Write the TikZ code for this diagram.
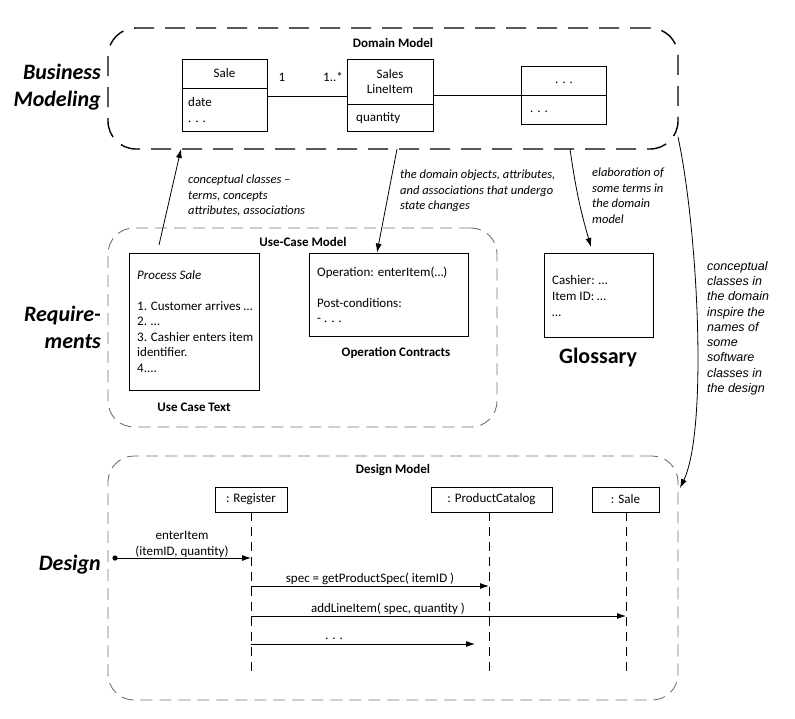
\documentclass[tikz,border=0pt]{standalone}
\usepackage{fontspec}
\setmainfont{Carlito}
\newfontfamily\arialfont{Liberation Sans}
\usetikzlibrary{arrows.meta}
\begin{document}
\begin{tikzpicture}[x=1pt,y=-1pt,
  every node/.style={font=\fontsize{13}{15.5}\selectfont, inner sep=0pt},
  domregion/.style={draw, line width=1.4pt, dash pattern=on 20pt off 11pt, rounded corners=28pt},
  grayregion/.style={draw=black!55, line width=0.9pt, dash pattern=on 12pt off 7pt, rounded corners=26pt},
  boxst/.style={draw, line width=0.9pt},
  arr/.style={-{Latex[length=9pt,width=6pt]}, line width=0.8pt},
  lifeline/.style={line width=0.8pt, dash pattern=on 9pt off 6pt},
  titlest/.style={font=\fontsize{13}{15.5}\selectfont\bfseries},
  lbl/.style={font=\fontsize{12.5}{15.5}\selectfont\itshape, align=left, anchor=north west},
  side/.style={font=\fontsize{22}{27}\selectfont\bfseries\itshape, align=right, anchor=east},
  txt/.style={align=left, anchor=west}]
\useasboundingbox (0,0) rectangle (795,718);

% ---------- regions ----------
\node[domregion, minimum width=570pt, minimum height=121pt] (dom) at (393,88.5) {};
\node[grayregion, minimum width=389pt, minimum height=199pt] (ucm) at (302.5,327.5) {};
\node[grayregion, minimum width=570pt, minimum height=244pt] (des) at (393,578) {};

% ---------- side labels ----------
\node[side] (lbiz) at (101,87.5) {Business\\Modeling};
\node[side] (lreq) at (101,327) {Require-\\ments};
\node[side] (ldes) at (101,565) {Design};

% ---------- domain model ----------
\node[titlest] (domt) at (393,43) {Domain Model};
\node[boxst, minimum width=85pt, minimum height=29pt] (saleT) at (224.5,73.5) {Sale};
\node[boxst, minimum width=85pt, minimum height=43pt] (saleB) at (224.5,109.5) {};
\node[txt, font=\fontsize{13}{16}\selectfont] (saleBt) at (188,110) {date\\. . .};
\node[boxst, minimum width=86pt, minimum height=45pt, align=center] (sliT) at (390,81.5) {Sales\\LineItem};
\node[boxst, minimum width=86pt, minimum height=27pt] (sliB) at (390,117.5) {};
\node[txt] (sliBt) at (356,118) {quantity};
\node[boxst, minimum width=85pt, minimum height=29pt] (othT) at (563.5,80.5) {};
\node[boxst, minimum width=85pt, minimum height=29pt] (othB) at (563.5,109.5) {};
\node (othTt) at (564,83) {. . .};
\node[txt] (othBt) at (530,112) {. . .};
\draw[line width=0.9pt] (saleB.north east |- 0,96) coordinate (as1) -- (as1 -| sliT.west);
\draw[line width=0.9pt] (sliT.east |- othT.south) -- (othT.south west);
\node (mult1) at (282,77) {1};
\node (mult2) at (333,77) {1..*};

% ---------- requirements ----------
\node[titlest] (ucmt) at (303,242) {Use-Case Model};
\node[boxst, minimum width=130pt, minimum height=137pt] (ucbox) at (194,321.5) {};
\node[txt] (uctext) at (137,321.5) {\textit{Process Sale}\\[15.5pt]1. Customer arrives …\\2. …\\3. Cashier enters item\\identifier.\\4....};
\node[titlest] (uct) at (194,407) {Use Case Text};
\node[boxst, minimum width=159pt, minimum height=83pt] (opbox) at (388.5,294.5) {};
\node[txt] (optext) at (317,295) {Operation: enterItem(…)\\[15.5pt]Post-conditions:\\- . . .};
\node[titlest] (opt) at (396,353) {Operation Contracts};
\node[boxst, minimum width=109pt, minimum height=84pt] (glbox) at (598.5,295) {};
\node[txt, font=\fontsize{13}{16}\selectfont] (gltext) at (552,296) {Cashier: …\\Item ID: …\\…};
\node[font=\fontsize{22}{26}\selectfont\bfseries] (glt) at (598,358) {Glossary};

% ---------- labels on arrows ----------
\node[lbl] (l1) at (188,175) {conceptual classes –\\terms, concepts\\attributes, associations};
\node[lbl] (l2) at (400,170) {the domain objects, attributes,\\and associations that undergo\\state changes};
\node[lbl] (l3) at (592,168) {elaboration of\\some terms in\\the domain\\model};
\node[lbl, font=\fontsize{12.5}{15.25}\selectfont\arialfont\itshape] (l4) at (707,261) {conceptual\\classes in\\the domain\\inspire the\\names of\\some\\software\\classes in\\the design};

% ---------- arrows between models ----------
\coordinate (a1s) at (159,245);
\coordinate (a1e) at (181,149);
\draw[arr] (a1s) -- (a1e);
\coordinate (a2s) at (397,149);
\draw[arr] (a2s) -- ([xshift=-11.5pt]opbox.north);
\coordinate (a3s) at (570,149);
\coordinate (a3e) at (591,247);
\draw[arr] (a3s) to[bend right=4] (a3e);
\coordinate (a4s) at (678,137);
\coordinate (a4e) at (680,488);
\draw[arr] (a4s) .. controls (698,230) and (708,430) .. (a4e);

% ---------- design model ----------
\node[titlest] (dest) at (393,470) {Design Model};
\node[boxst, minimum width=72pt, minimum height=25pt] (reg) at (251,499.5) {: Register};
\node[boxst, minimum width=121pt, minimum height=25pt] (pc) at (491.5,499.5) {: ProductCatalog};
\node[boxst, minimum width=67pt, minimum height=25pt] (sl) at (625.5,499.5) {: Sale};
\coordinate (regE) at (251,673);
\coordinate (pcE) at (489,673);
\coordinate (slE) at (626,673);
\draw[lifeline] (reg.south) -- (regE);
\draw[lifeline] (pc.south -| pcE) -- (pcE);
\draw[lifeline] (sl.south -| slE) -- (slE);

\fill (115,558) circle (2.6pt);
\coordinate (start) at (115,558);
\draw[arr] (start) -- (start -| regE);
\node[align=center] (m0) at (182,544.5) {enterItem\\(itemID, quantity)};

\coordinate (m1s) at (251,586);
\draw[arr] (m1s) -- (m1s -| pcE);
\node (m1) at (370,579) {spec = getProductSpec( itemID )};

\coordinate (m2s) at (251,616);
\draw[arr] (m2s) -- (m2s -| slE);
\node (m2) at (388,609) {addLineItem( spec, quantity )};

\coordinate (m3s) at (251,644);
\coordinate (m3e) at (475,644);
\draw[arr] (m3s) -- (m3e);
\node (m3) at (334,639) {. . .};
\end{tikzpicture}
\end{document}
